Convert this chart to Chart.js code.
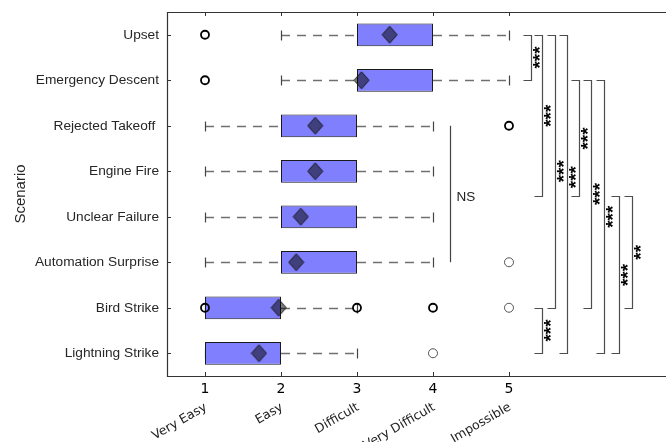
<!DOCTYPE html>
<html>
<head>
<meta charset="utf-8">
<script src="https://cdn.jsdelivr.net/npm/chart.js@4.4.1/dist/chart.umd.min.js"></script>
<style>
  html, body { margin: 0; padding: 0; background: #fff; overflow: hidden; }
  #chart { display: block; }
</style>
</head>
<body>
<canvas id="chart" width="666" height="442"></canvas>
<script>
// ---- data ----
const scenarios = ['Upset', 'Emergency Descent', 'Rejected Takeoff ', 'Engine Fire',
  'Unclear Failure', 'Automation Surprise', 'Bird Strike', 'Lightning Strike'];
const whiskerLow  = [2, 2, 1, 1, 1, 1, 1, 1];
const boxLow      = [3, 3, 2, 2, 2, 2, 1, 1];
const boxHigh     = [4, 4, 3, 3, 3, 3, 2, 2];
const whiskerHigh = [5, 5, 4, 4, 4, 4, 3, 3];
const means       = [3.43, 3.06, 2.45, 2.45, 2.26, 2.2, 1.97, 1.71];

// outliers: [value, scenario index]
const outliersBold = [[1, 0], [1, 1], [5, 2], [1, 6], [3, 6], [4, 6]];
const outliersThin = [[5, 5], [5, 6], [4, 7]];

const xTicks = [1, 2, 3, 4, 5];
const xTickNames = ['Very Easy', 'Easy', 'Difficult', 'Very Difficult', 'Impossible'];

// significance comparisons (category positions; 3.55 = middle group)
const sigFrom  = [0, 0, 0, 0, 1, 1, 1, 3.55, 3.55, 6];
const sigTo    = [1, 3.55, 6, 7, 3.55, 6, 7, 7, 6, 7];
const sigLabel = ['***', '***', '***', '***', '***', '***', '***', '***', '**', '***'];
// layout of the brackets (x in axis units)
const sigCol     = [5.29, 5.434, 5.605, 5.763, 5.921, 6.079, 6.25, 6.447, 6.618, 5.434];
const sigLabelAt = [0.5, 1.78, 3.0, 3.13, 2.28, 3.5, 4.0, 5.28, 4.78, 6.5];

// diamond marker for the means
const diamond = document.createElement('canvas');
diamond.width = 17; diamond.height = 19;
(function () {
  const c = diamond.getContext('2d');
  c.beginPath();
  c.moveTo(8.5, 1); c.lineTo(16, 9.5); c.lineTo(8.5, 18); c.lineTo(1, 9.5); c.closePath();
  c.fillStyle = 'rgba(0,0,0,0.5)';
  c.fill();
  c.strokeStyle = '#1a1a1a';
  c.lineWidth = 1;
  c.stroke();
})();

const boxExtras = {
  id: 'boxExtras',
  beforeDatasetsDraw(chart) {
    const { ctx } = chart;
    const xs = chart.scales.x, ys = chart.scales.y;
    ctx.save();
    scenarios.forEach((s, i) => {
      const y = Math.round(ys.getPixelForValue(i)) + 0.5;
      const segs = [[whiskerLow[i], boxLow[i]], [boxHigh[i], whiskerHigh[i]]];
      segs.forEach(([a, b]) => {
        if (a === b) return;
        const xa = xs.getPixelForValue(a), xb = xs.getPixelForValue(b);
        ctx.setLineDash([9, 7]);
        ctx.strokeStyle = '#707070';
        ctx.lineWidth = 1.3;
        ctx.beginPath();
        ctx.moveTo(xa, y); ctx.lineTo(xb, y);
        ctx.stroke();
      });
      ctx.setLineDash([]);
      ctx.strokeStyle = '#444';
      ctx.lineWidth = 1.2;
      [whiskerLow[i], whiskerHigh[i]].forEach(v => {
        const x = Math.round(xs.getPixelForValue(v)) + 0.5;
        ctx.beginPath();
        ctx.moveTo(x, y - 5); ctx.lineTo(x, y + 5);
        ctx.stroke();
      });
    });
    ctx.restore();
  },
  afterDraw(chart) {
    const { ctx, chartArea: ca } = chart;
    const xs = chart.scales.x, ys = chart.scales.y;
    ctx.save();
    // frame
    ctx.strokeStyle = '#333';
    ctx.lineWidth = 1.2;
    ctx.beginPath();
    ctx.moveTo(ca.right, ca.top + 0.5);
    ctx.lineTo(ca.left + 0.5, ca.top + 0.5);
    ctx.lineTo(ca.left + 0.5, ca.bottom + 0.5);
    ctx.lineTo(ca.right, ca.bottom + 0.5);
    ctx.stroke();
    // inward ticks
    ctx.lineWidth = 1;
    ctx.beginPath();
    scenarios.forEach((s, i) => {
      const y = Math.round(ys.getPixelForValue(i)) + 0.5;
      ctx.moveTo(ca.left, y); ctx.lineTo(ca.left + 4, y);
    });
    xTicks.forEach(v => {
      const x = Math.round(xs.getPixelForValue(v)) + 0.5;
      ctx.moveTo(x, ca.bottom); ctx.lineTo(x, ca.bottom - 4);
      ctx.moveTo(x, ca.top); ctx.lineTo(x, ca.top + 4);
    });
    ctx.stroke();

    // rotated category names under the numbers
    ctx.fillStyle = '#222';
    ctx.font = '12.5px "DejaVu Sans"';
    ctx.textAlign = 'right';
    ctx.textBaseline = 'top';
    xTickNames.forEach((t, k) => {
      const x = xs.getPixelForValue(xTicks[k]);
      ctx.save();
      ctx.translate(x - 2, ca.bottom + 25);
      ctx.rotate(-Math.PI / 6);
      ctx.fillText(t, 0, 0);
      ctx.restore();
    });

    // NS line
    ctx.strokeStyle = '#444';
    ctx.lineWidth = 1.2;
    const nsX = Math.round(xs.getPixelForValue(4.224)) + 0.5;
    ctx.beginPath();
    ctx.moveTo(nsX, ys.getPixelForValue(2));
    ctx.lineTo(nsX, ys.getPixelForValue(5));
    ctx.stroke();
    ctx.fillStyle = '#222';
    ctx.font = '13.5px "Liberation Sans"';
    ctx.textAlign = 'left';
    ctx.textBaseline = 'middle';
    ctx.fillText('NS', nsX + 6, ys.getPixelForValue(3.5) + 3);

    // significance brackets
    sigFrom.forEach((f, k) => {
      const x = Math.round(xs.getPixelForValue(sigCol[k])) + 0.5;
      const y1 = Math.round(ys.getPixelForValue(f)) + 0.5;
      const y2 = Math.round(ys.getPixelForValue(sigTo[k])) + 0.5;
      ctx.strokeStyle = '#4d4d4d';
      ctx.lineWidth = 1.2;
      ctx.beginPath();
      ctx.moveTo(x - 8, y1); ctx.lineTo(x, y1); ctx.lineTo(x, y2); ctx.lineTo(x - 8, y2);
      ctx.stroke();
      ctx.save();
      ctx.translate(x + 14, ys.getPixelForValue(sigLabelAt[k]));
      ctx.rotate(-Math.PI / 2);
      ctx.fillStyle = '#000';
      ctx.font = 'bold 19px "Liberation Sans"';
      ctx.textAlign = 'center';
      ctx.textBaseline = 'alphabetic';
      ctx.fillText(sigLabel[k], 0, 0);
      ctx.restore();
    });
    ctx.restore();
  }
};

new Chart(document.getElementById('chart'), {
  type: 'bar',
  data: {
    labels: scenarios,
    datasets: [
      {
        label: 'IQR',
        data: scenarios.map((s, i) => [boxLow[i], boxHigh[i]]),
        backgroundColor: '#8080ff',
        borderColor: '#1a1a1a',
        borderWidth: 1,
        borderSkipped: false,
        barPercentage: 0.5,
        categoryPercentage: 1,
        order: 3
      },
      {
        type: 'scatter',
        label: 'Mean',
        data: means.map((m, i) => ({ x: m, y: scenarios[i] })),
        pointStyle: diamond,
        pointRadius: 8,
        order: 1
      },
      {
        type: 'scatter',
        label: 'Outliers',
        data: outliersBold.map(([v, i]) => ({ x: v, y: scenarios[i] })),
        pointStyle: 'circle',
        pointRadius: 4,
        borderWidth: 1.8,
        borderColor: '#000',
        backgroundColor: 'rgba(0,0,0,0)',
        order: 0
      },
      {
        type: 'scatter',
        label: 'Outliers (single)',
        data: outliersThin.map(([v, i]) => ({ x: v, y: scenarios[i] })),
        pointStyle: 'circle',
        pointRadius: 4.5,
        borderWidth: 1,
        borderColor: '#555',
        backgroundColor: 'rgba(0,0,0,0)',
        order: 0
      }
    ]
  },
  options: {
    indexAxis: 'y',
    responsive: false,
    animation: false,
    layout: { autoPadding: false, padding: { top: 12, left: 0, right: 0, bottom: 0 } },
    plugins: {
      legend: { display: false },
      tooltip: { enabled: false }
    },
    scales: {
      x: {
        type: 'linear',
        position: 'bottom',
        min: 0.5,
        max: 7.066,
        grid: { display: false, drawTicks: false },
        border: { display: false },
        ticks: { font: { family: 'DejaVu Sans', size: 14 }, color: '#000', padding: 5 },
        afterBuildTicks: scale => { scale.ticks = xTicks.map(v => ({ value: v })); },
        afterFit: scale => {
          scale.height = 66;
          scale.paddingLeft = 0;
          scale.paddingRight = 0;
        }
      },
      y: {
        type: 'category',
        labels: scenarios,
        offset: true,
        grid: { display: false, drawTicks: false },
        border: { display: false },
        ticks: { font: { family: 'Liberation Sans', size: 13.7 }, color: '#262626', padding: 8 },
        title: {
          display: true,
          text: 'Scenario',
          font: { family: 'Liberation Sans', size: 15 },
          color: '#262626',
          padding: { top: 12, bottom: 0 }
        },
        afterFit: scale => {
          scale.width = 167;
          scale.paddingTop = 0;
          scale.paddingBottom = 0;
        }
      }
    }
  },
  plugins: [boxExtras]
});
</script>
</body>
</html>
